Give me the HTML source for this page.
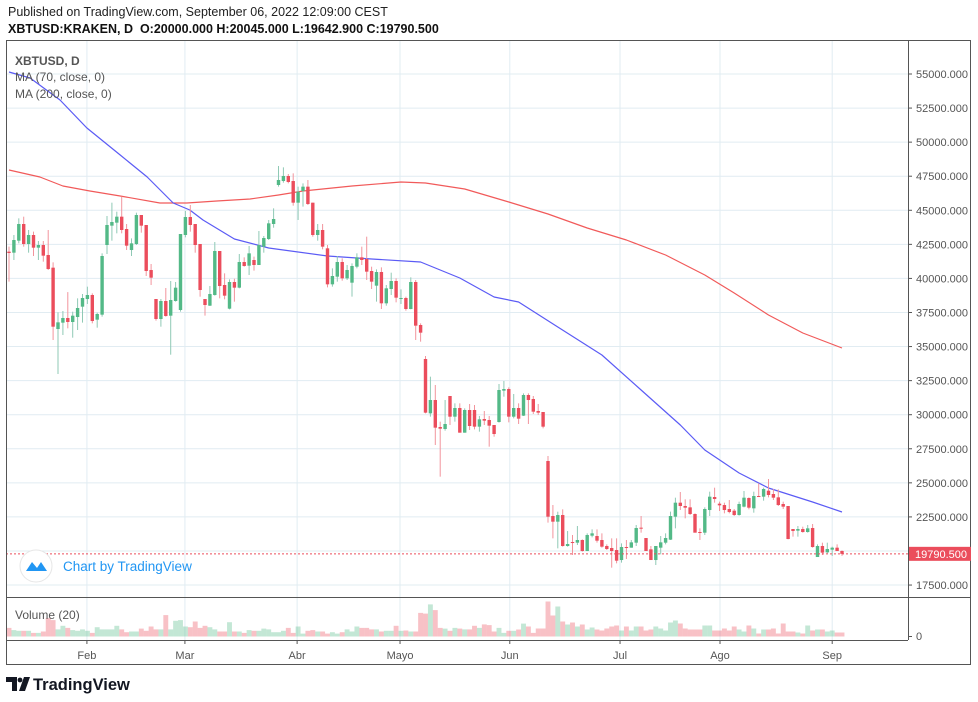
<!DOCTYPE html>
<html><head><meta charset="utf-8">
<style>
body{margin:0;background:#fff;width:978px;height:702px;overflow:hidden;font-family:"Liberation Sans",sans-serif;}
#hdr1{position:absolute;left:8px;top:5px;font-size:12.5px;color:#222;}
#hdr2{position:absolute;left:8px;top:22px;font-size:12.5px;color:#111;font-weight:bold;}
svg{position:absolute;left:0;top:0;}
</style></head><body>
<div id="hdr1">Published on TradingView.com, September 06, 2022 12:09:00 CEST</div>
<div id="hdr2">XBTUSD:KRAKEN, D&nbsp; O:20000.000 H:20045.000 L:19642.900 C:19790.500</div>
<svg id="chart" width="978" height="702"></svg>
<script>
const opens=[41963,41889,42770,43993,42525,43186,42256,42452,41718,40789,36288,36753,37095,36802,37168,37927,38489,38783,36973,37340,42452,43871,44091,44531,43626,42085,42525,44653,43920,40617,38489,37022,38343,37266,38343,37683,43186,44507,43993,42525,38489,38000,38783,42012,39517,37780,39737,39321,41204,40935,41351,40984,42330,42892,43993,46855,47148,47515,47148,45558,46415,46733,45558,43186,43553,42208,39566,40129,41205,40006,39688,40862,41547,41425,40544,39468,40471,38172,39224,39811,38514,38563,37756,39737,36582,34087,30100,31078,29097,28950,31372,29855,30491,28681,30345,30345,29122,29684,29611,29244,29464,31763,31885,29855,30491,29929,31446,31152,30271,30198,26602,22566,22150,22639,20365,20658,20609,20805,19998,21123,21098,20805,20365,20218,20071,19337,20291,20242,20609,21710,20951,20120,19337,20242,20609,20829,22517,23544,23300,23202,22713,21392,21343,23006,23960,23471,23373,23080,22957,22639,23251,23887,23129,24033,23985,24425,24180,23936,23447,23300,21612,21490,21612,21392,21685,19557,20365,19900,20096,20242,20000];
const closes=[41865,42819,43993,42525,43186,42256,42452,41669,40691,36459,36777,37095,36802,37266,37829,38563,38783,36875,37389,41645,43920,44140,44531,43553,42403,42574,44653,43871,40544,40055,37022,38343,37242,38416,39321,43259,44507,43920,42452,39150,38049,38856,42012,39443,38734,39737,39321,41204,40911,41840,40984,42452,42965,44042,44360,47222,47515,47075,45558,46366,46733,45460,43186,43553,42330,39566,40177,41205,40006,40618,40911,41547,41352,40496,39762,40471,38172,39273,39811,38588,38563,37756,39737,36533,36019,30149,31078,29048,28975,29317,29855,30491,28681,30345,29171,29122,29660,29562,29195,28583,31812,31885,29855,30491,29709,31446,31078,30222,30149,29122,22517,22150,22639,20365,20511,20609,20805,19998,21172,21294,20756,20316,20145,19998,19288,20291,20242,20633,21685,21636,19998,19337,20365,20633,20951,22566,23544,23300,23177,22713,21343,21343,23080,23985,23813,23349,23006,22859,22639,23447,23911,23177,24033,23960,24547,24107,23911,23373,23251,20878,21465,21612,21392,21661,20291,20365,19876,20145,20242,19998,19790.5];
const highs=[42330,43186,44409,44531,43553,43430,42745,42745,43553,41180,37511,37609,38997,37560,38538,38856,39395,38905,37487,41840,44580,45558,44898,45999,43993,42941,44824,44653,43920,41058,38489,38489,39297,39810,39737,43259,44947,45387,43993,42525,38489,39443,42672,42012,40373,39932,39981,41791,41547,42379,41596,43479,43112,44287,45143,48249,48151,47662,47711,46733,46977,47222,45558,43993,43993,42452,40740,41645,41474,40985,41107,41841,42330,43064,40862,40667,40813,39517,40422,40006,39199,38661,40080,39884,36704,34307,32791,32179,29489,31078,31372,30834,30834,30467,30785,30712,29904,30271,29904,29244,32253,32473,32008,31519,30834,31568,31568,31372,30785,30198,26969,23373,22884,23055,21465,21172,21832,20854,21294,21588,21588,21294,20487,20927,20927,20560,20805,20805,21905,22566,20951,20365,20365,21098,21294,22884,23911,24327,23789,23789,22762,21661,23202,24352,24645,23618,23544,23740,23080,23618,24400,23936,24352,24963,24645,25281,24547,24523,23618,23300,21612,21832,21783,21905,21979,20487,20609,20609,20316,20487,20045];
const lows=[39761,41351,42574,42330,41889,41645,41351,41229,40617,35481,32986,35848,36337,35652,36215,36753,38122,36704,36386,37193,41791,42770,43308,43308,42085,41645,42452,43357,40177,39517,36899,36459,37193,34404,38294,37560,43014,43430,41889,38661,37266,37976,38734,38538,38465,37731,38294,39272,40862,40251,40569,40984,41889,42819,43724,46733,47026,46977,45338,44287,45265,45387,43063,42770,42134,39346,39395,39762,39835,39884,38661,40740,40985,39884,39224,38294,37756,37999,38783,38245,38123,37634,37731,35481,35359,30100,29855,27776,25453,28828,29244,29489,28681,28681,28877,28926,28755,29244,27654,28388,29415,31323,29440,29733,29318,29904,29318,30051,29978,28999,22077,20927,20193,20316,20316,19704,20438,19949,19998,21000,20609,20242,20071,18775,19093,19142,19411,20242,20365,21343,19998,19337,18970,19753,20487,20805,21661,23006,22395,22639,21343,20805,21172,22566,23544,22933,22762,22762,22566,22590,23202,23055,22811,23960,23691,23936,23740,23300,23080,20854,21050,21050,21343,21343,20242,19557,19704,19827,19631,19998,19642.9];
const volumes=[8.6,6.4,5.7,5.7,5.7,3.6,3.6,5,18.6,16.4,7.1,10.7,8.6,6.4,5.7,7.1,5.7,3.6,9.3,7.1,7.1,7.1,10.7,7.1,4.3,5,5,7.9,5.7,10,7.1,7.1,21.4,7.1,15.7,16.4,10,9.3,15,8.6,10.7,9.3,7.1,5,5,14.3,5,5,3.6,6.4,5.7,5.7,7.9,7.1,4.3,4.3,5.7,8.6,3.6,10,2.9,5.7,6.4,5,5,2.9,4.3,2.9,4.3,7.1,5,10,8.6,8.6,7.1,7.1,5,5.7,5.7,10.7,5.7,6,5,5,23.6,22.9,32.1,26.4,8.6,7.9,5.7,8.6,7.9,7.1,7.1,10.7,8.6,12.1,11.4,5,8.6,3.6,5.7,5.7,7,12.9,10,3.6,8,8,35,21,30,15,12,14,10,12,7,9,7,6,8,10,11,6,10,6,10,10,6,7,10,8,6,14,16,13,8,7,7,7,11,11,6,6,8,6,10,7,5,11,8,3,7,7,8,3,13,5,5,4,3,11,6,7,7,5,6,4,4];
const ma70Idx=[0,4.3,10.4,15.9,22.7,28.2,33.5,36.9,39.6,46,53,65,74,84,92,99,104,112,121,129,137,142,149,155,164,170];
const ma70Val=[55147,54706,53092,51037,49056,47442,45534,45020,44286,42892,42232,41645,41425,41205,40031,38637,38269,36435,34380,31812,29244,27409,25721,24620,23593,22860];
const ma200Idx=[0,6.3,11,16.5,22.7,30.8,36.3,42.4,49.2,55,60,70,80,85,93,102,110,118,126,134,142,148,155,162,170];
const ma200Val=[47955,47442,46781,46415,46048,45534,45534,45681,45828,46121,46415,46781,47075,47002,46561,45607,44727,43700,42819,41718,40251,38930,37316,35995,34895];
const priceTicks=[17500,20000,22500,25000,27500,30000,32500,35000,37500,40000,42500,45000,47500,50000,52500,55000];
const monthLabels=["Feb","Mar","Abr","Mayo","Jun","Jul","Ago","Sep"];
const monthIdx=[15.9,35.9,58.8,79.8,102.2,124.7,145.1,168];

const NS="http://www.w3.org/2000/svg";
const svg=document.getElementById('chart');
const L=6,R=908,TOP=40,MAINB=597,VOLB=640,OUTR=971,OUTB=665;
const n=closes.length;
const step=(842-9)/(n-1);
function xOf(i){return 9+i*step;}
function yOf(p){return 74+(55000-p)*(34.07/2500);}
function vY(v){return 636.5-v;}
function mk(tag,attrs,parent){const e=document.createElementNS(NS,tag);for(const k in attrs)e.setAttribute(k,attrs[k]);(parent||svg).appendChild(e);return e;}

const grid=mk('g',{});


priceTicks.forEach(p=>{const y=yOf(p);mk('line',{x1:L,x2:R,y1:y,y2:y,stroke:'#e1ecf2','stroke-width':1},grid);});
monthIdx.forEach(i=>{const x=xOf(i);mk('line',{x1:x,x2:x,y1:TOP,y2:VOLB,stroke:'#e1ecf2','stroke-width':1},grid);});

const vg=mk('g',{});


for(let i=0;i<n;i++){
  const up=closes[i]>=opens[i];
  const b=mk('rect',{x:xOf(i)-step/2,y:vY(volumes[i]),width:step,height:volumes[i],fill:up?'rgba(83,185,135,0.35)':'rgba(235,77,92,0.35)'},vg);
  
  
}

function line(idx,val,color,name){
  const pts=idx.map((k,j)=>xOf(k).toFixed(1)+','+yOf(val[j]).toFixed(1)).join(' ');
  const pl=mk('polyline',{points:pts,fill:'none',stroke:color,'stroke-width':1.2,'stroke-linejoin':'round'});
  
  
}
line(ma200Idx,ma200Val,'#f15a5a','ma-200-line');
line(ma70Idx,ma70Val,'#5b5bf5','ma-70-line');

const cg=mk('g',{});


for(let i=0;i<n;i++){
  const up=closes[i]>=opens[i];
  const x=xOf(i);
  const wc=up?'#8fc9b5':'#f2949c';
  const bc=up?'#53b987':'#eb4d5c';
  mk('line',{x1:x,x2:x,y1:yOf(highs[i]),y2:yOf(lows[i]),stroke:wc,'stroke-width':1},cg);
  const yt=yOf(Math.max(opens[i],closes[i])),yb=yOf(Math.min(opens[i],closes[i]));
  const c=mk('rect',{x:x-1.7,y:yt,width:3.4,height:Math.max(1,yb-yt),fill:bc},cg);
  
  
}

const lp=closes[n-1];
mk('line',{x1:L,x2:R,y1:yOf(lp),y2:yOf(lp),stroke:'#eb4d5c','stroke-width':1,'stroke-dasharray':'2,2'});

mk('rect',{x:L+0.5,y:TOP+0.5,width:OUTR-L-1,height:OUTB-TOP-1,fill:'none',stroke:'#555','stroke-width':1});
mk('line',{x1:R+0.5,x2:R+0.5,y1:TOP,y2:VOLB,stroke:'#555'});
mk('line',{x1:L,x2:OUTR,y1:MAINB+0.5,y2:MAINB+0.5,stroke:'#555'});
mk('line',{x1:L,x2:R,y1:VOLB+0.5,y2:VOLB+0.5,stroke:'#555'});

const ax=mk('g',{});


priceTicks.forEach(p=>{
  const y=yOf(p);
  if(y<TOP+5)return;
  mk('line',{x1:R,x2:R+4,y1:y,y2:y,stroke:'#555'},ax);
  const t=mk('text',{x:916,y:y+4,'font-size':'11px',fill:'#555','font-family':'Liberation Sans, sans-serif'},ax);
  t.textContent=p.toFixed(3);
  
  
});
const lpY=yOf(lp);
const lpr=mk('rect',{x:R+1,y:lpY-7,width:OUTR-R-1,height:14,fill:'#eb4d5c'});


const lpt=mk('text',{x:915,y:lpY+4,'font-size':'11px',fill:'#fff','font-family':'Liberation Sans, sans-serif'});
lpt.textContent=lp.toFixed(3);
mk('line',{x1:R,x2:R+4,y1:636.5,y2:636.5,stroke:'#555'});
const z=mk('text',{x:916,y:640,'font-size':'11px',fill:'#555'});z.textContent='0';

const ta=mk('g',{});


monthLabels.forEach((m,j)=>{
  const x=xOf(monthIdx[j]);
  mk('line',{x1:x,x2:x,y1:VOLB,y2:VOLB+4,stroke:'#555'},ta);
  const t=mk('text',{x:x,y:659,'text-anchor':'middle','font-size':'11px',fill:'#555','font-family':'Liberation Sans, sans-serif'},ta);
  t.textContent=m;
  
  
});

const lg=mk('g',{'font-family':'Liberation Sans, sans-serif','font-size':'12px',fill:'#555'});


const l1=mk('text',{x:15,y:65,'font-weight':'bold'},lg);l1.textContent='XBTUSD, D';
const l2=mk('text',{x:15,y:81},lg);l2.textContent='MA (70, close, 0)';
const l3=mk('text',{x:15,y:98},lg);l3.textContent='MA (200, close, 0)';
const vl=mk('text',{x:15,y:619,'font-family':'Liberation Sans, sans-serif','font-size':'12px',fill:'#555'});
vl.textContent='Volume (20)';



const bd=mk('g',{});


mk('circle',{cx:36,cy:566,r:16,fill:'#fff',stroke:'#e6e6e6'},bd);
mk('path',{d:'M26 571 L32 562 L37 568 L41 562 L47 571 Z',fill:'#2196f3'},bd);
const bt=mk('text',{x:63,y:571,'font-size':'13.5px',fill:'#2196f3','font-family':'Liberation Sans, sans-serif'},bd);
bt.textContent='Chart by TradingView';

const lo=mk('g',{});


mk('path',{d:'M6 677 H17 V691 H12 V682 H6 Z',fill:'#131722'},lo);
mk('circle',{cx:20,cy:680,r:2.4,fill:'#131722'},lo);
mk('path',{d:'M24 677 H30 L25 691 H19 Z',fill:'#131722'},lo);
const lt=mk('text',{x:33,y:690,'font-size':'16.5px','font-weight':'bold',fill:'#131722','font-family':'Liberation Sans, sans-serif'},lo);
lt.textContent='TradingView';
</script>
</body></html>
